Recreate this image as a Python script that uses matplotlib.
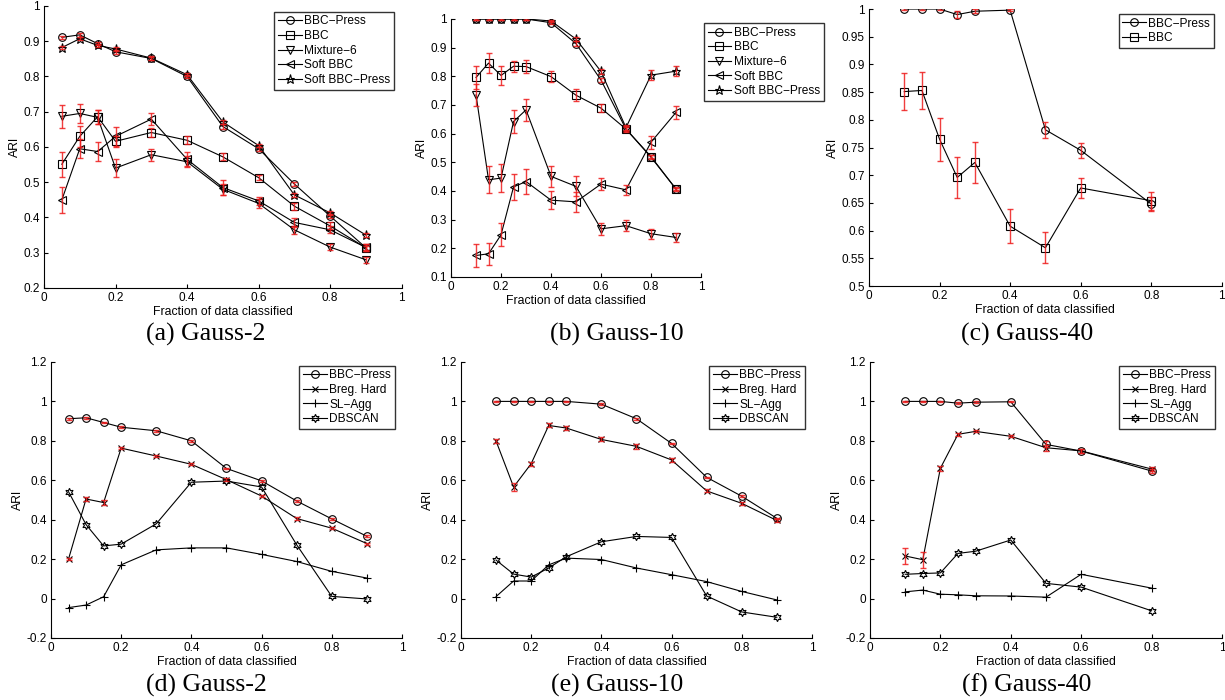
import numpy as np
import matplotlib.pyplot as plt
from matplotlib.ticker import FormatStrFormatter

plt.rcParams['font.family'] = ['Liberation Sans', 'DejaVu Sans']

#%% data
# top row: Gauss-2, Gauss-10, Gauss-40
x_a = [0.05, 0.1, 0.15, 0.2, 0.3, 0.4, 0.5, 0.6, 0.7, 0.8, 0.9]
a_bbcp = [0.911, 0.918, 0.893, 0.870, 0.851, 0.800, 0.658, 0.595, 0.495, 0.404, 0.314]
a_bbc = [0.551, 0.630, 0.686, 0.616, 0.641, 0.619, 0.572, 0.513, 0.432, 0.376, 0.314]
a_mix = [0.687, 0.695, 0.684, 0.540, 0.578, 0.558, 0.480, 0.440, 0.365, 0.316, 0.280]
a_soft = [0.450, 0.595, 0.587, 0.630, 0.679, 0.565, 0.485, 0.447, 0.386, 0.365, 0.315]
a_softp = [0.882, 0.907, 0.888, 0.878, 0.852, 0.805, 0.671, 0.604, 0.464, 0.413, 0.350]
a_bbcp_e = [0.005, 0.006, 0.005, 0.005, 0.005, 0.005, 0.006, 0.006, 0.006, 0.006, 0.006]
a_bbc_e = [0.036, 0.030, 0.020, 0.015, 0.012, 0.012, 0.010, 0.008, 0.010, 0.010, 0.010]
a_mix_e = [0.032, 0.027, 0.020, 0.026, 0.017, 0.016, 0.015, 0.012, 0.012, 0.008, 0.008]
a_soft_e = [0.037, 0.027, 0.028, 0.028, 0.018, 0.020, 0.020, 0.012, 0.012, 0.010, 0.010]
a_softp_e = [0.005, 0.005, 0.005, 0.005, 0.005, 0.005, 0.005, 0.005, 0.006, 0.005, 0.005]

x_b = [0.1, 0.15, 0.2, 0.25, 0.3, 0.4, 0.5, 0.6, 0.7, 0.8, 0.9]
b_bbcp = [1.0, 1.0, 1.0, 1.0, 1.0, 0.987, 0.914, 0.787, 0.616, 0.520, 0.407]
b_bbc = [0.796, 0.846, 0.803, 0.835, 0.834, 0.799, 0.734, 0.689, 0.616, 0.518, 0.407]
b_mix = [0.735, 0.439, 0.445, 0.642, 0.683, 0.451, 0.416, 0.268, 0.279, 0.251, 0.238]
b_soft = [0.175, 0.181, 0.247, 0.414, 0.433, 0.368, 0.362, 0.424, 0.404, 0.570, 0.674]
b_softp = [1.0, 1.0, 1.0, 1.0, 1.0, 0.993, 0.930, 0.817, 0.621, 0.804, 0.818]
b_bbcp_e = [0.003, 0.003, 0.003, 0.003, 0.003, 0.005, 0.008, 0.008, 0.008, 0.006, 0.005]
b_bbc_e = [0.040, 0.035, 0.032, 0.020, 0.022, 0.018, 0.020, 0.013, 0.010, 0.008, 0.006]
b_mix_e = [0.037, 0.047, 0.048, 0.040, 0.038, 0.036, 0.035, 0.022, 0.020, 0.017, 0.015]
b_soft_e = [0.039, 0.039, 0.040, 0.045, 0.045, 0.032, 0.035, 0.022, 0.017, 0.023, 0.024]
b_softp_e = [0.003, 0.003, 0.003, 0.003, 0.003, 0.004, 0.006, 0.008, 0.008, 0.018, 0.018]

x_c = [0.1, 0.15, 0.2, 0.25, 0.3, 0.4, 0.5, 0.6, 0.8]
c_bbcp = [1.0, 1.0, 1.0, 0.990, 0.996, 0.998, 0.782, 0.745, 0.648]
c_bbc = [0.851, 0.853, 0.765, 0.696, 0.723, 0.608, 0.569, 0.677, 0.654]
c_bbcp_e = [0.001, 0.001, 0.001, 0.006, 0.004, 0.002, 0.014, 0.014, 0.012]
c_bbc_e = [0.033, 0.033, 0.039, 0.037, 0.037, 0.031, 0.028, 0.018, 0.016]

# bottom row: comparison with other methods
d_bbcp = [0.912, 0.917, 0.893, 0.869, 0.851, 0.800, 0.660, 0.597, 0.495, 0.404, 0.316]
d_breg = [0.200, 0.505, 0.487, 0.763, 0.723, 0.681, 0.603, 0.520, 0.406, 0.357, 0.279]
d_sl = [-0.046, -0.033, 0.009, 0.171, 0.247, 0.257, 0.257, 0.224, 0.188, 0.138, 0.104]
d_db = [0.542, 0.375, 0.267, 0.276, 0.379, 0.590, 0.596, 0.566, 0.273, 0.011, -0.002]
d_bbcp_e = [0.004] * 11
d_breg_e = [0.005, 0.012, 0.013, 0.006, 0.005, 0.005, 0.008, 0.006, 0.006, 0.005, 0.005]

e_bbcp = [1.0, 1.0, 1.0, 1.0, 1.0, 0.986, 0.912, 0.787, 0.615, 0.519, 0.407]
e_breg = [0.799, 0.566, 0.684, 0.878, 0.865, 0.807, 0.772, 0.703, 0.546, 0.483, 0.396]
e_sl = [0.010, 0.089, 0.089, 0.171, 0.205, 0.198, 0.155, 0.121, 0.086, 0.036, -0.007]
e_db = [0.195, 0.124, 0.109, 0.155, 0.212, 0.288, 0.315, 0.310, 0.013, -0.068, -0.095]
e_bbcp_e = [0.004] * 11
e_breg_e = [0.010, 0.022, 0.010, 0.010, 0.008, 0.010, 0.012, 0.010, 0.008, 0.006, 0.006]

f_bbcp = [1.0, 1.0, 1.0, 0.991, 0.996, 0.998, 0.782, 0.748, 0.647]
f_breg = [0.216, 0.197, 0.661, 0.833, 0.848, 0.823, 0.765, 0.749, 0.657]
f_sl = [0.034, 0.043, 0.022, 0.019, 0.014, 0.013, 0.007, 0.123, 0.053]
f_db = [0.123, 0.127, 0.130, 0.229, 0.240, 0.297, 0.077, 0.058, -0.062]
f_bbcp_e = [0.003, 0.003, 0.003, 0.006, 0.004, 0.003, 0.015, 0.012, 0.012]
f_breg_e = [0.042, 0.040, 0.012, 0.006, 0.005, 0.005, 0.015, 0.012, 0.012]

captions = ['(a) Gauss-2', '(b) Gauss-10', '(c) Gauss-40',
            '(d) Gauss-2', '(e) Gauss-10', '(f) Gauss-40']

hexagram = (6, 1, 0)
msize = {'*': 6.5, 'x': 4, '+': 6}


def draw(ax, x, series, ylim, yticks):
    # series: list of (label, marker, y, err or None)
    for lab, mk, y, err in series:
        ms = 6 if mk == hexagram else msize.get(mk, 5.5)
        ax.plot(x, y, color='k', lw=0.8, marker=mk, ms=ms, mfc='none',
                mec='k', mew=0.8, label=lab, zorder=2)
    for lab, mk, y, err in series:
        if err is not None:
            ax.errorbar(x, y, yerr=err, fmt='none', ecolor='#ee1c1c', elinewidth=1.0,
                        capsize=2.2, capthick=1.0, alpha=0.85, zorder=3)
    ax.set_xlim(0, 1)
    ax.set_ylim(*ylim)
    ax.set_xticks(np.arange(0, 1.01, 0.2))
    ax.set_yticks(yticks)
    ax.xaxis.set_major_formatter(FormatStrFormatter('%g'))
    ax.yaxis.set_major_formatter(FormatStrFormatter('%g'))
    ax.tick_params(direction='in', length=3, labelsize=8.5, width=0.8, pad=3)
    for s in ('top', 'right'):
        ax.spines[s].set_visible(False)
    ax.spines['left'].set_linewidth(0.8)
    ax.spines['bottom'].set_linewidth(0.8)
    ax.set_xlabel('Fraction of data classified', fontsize=8.8, labelpad=1)
    ax.set_ylabel('ARI', fontsize=8.8, labelpad=2)


def legend(ax, loc, anchor):
    lg = ax.legend(loc=loc, bbox_to_anchor=anchor, borderaxespad=0, fontsize=8.6,
                   frameon=True, fancybox=False, handlelength=2.0, handletextpad=0.2,
                   labelspacing=0.22, borderpad=0.3)
    lg.get_frame().set_edgecolor('k')
    lg.get_frame().set_linewidth(1.0)


fig = plt.figure(figsize=(12.25, 7), dpi=100)

ax1 = fig.add_axes([0.0359, 0.5886, 0.292, 0.4029])
draw(ax1, x_a, [('BBC\u2212Press', 'o', a_bbcp, a_bbcp_e), ('BBC', 's', a_bbc, a_bbc_e),
                ('Mixture\u22126', 'v', a_mix, a_mix_e), ('Soft BBC', '<', a_soft, a_soft_e),
                ('Soft BBC\u2212Press', '*', a_softp, a_softp_e)],
     (0.2, 1.0), np.arange(0.2, 1.01, 0.1))
legend(ax1, 'upper right', (0.978, 0.979))

ax2 = fig.add_axes([0.3682, 0.6043, 0.204, 0.3686])
draw(ax2, x_b, [('BBC\u2212Press', 'o', b_bbcp, b_bbcp_e), ('BBC', 's', b_bbc, b_bbc_e),
                ('Mixture\u22126', 'v', b_mix, b_mix_e), ('Soft BBC', '<', b_soft, b_soft_e),
                ('Soft BBC\u2212Press', '*', b_softp, b_softp_e)],
     (0.1, 1.0), np.arange(0.1, 1.01, 0.1))
legend(ax2, 'upper left', (1.012, 0.984))

ax3 = fig.add_axes([0.7094, 0.5914, 0.288, 0.3957])
draw(ax3, x_c, [('BBC\u2212Press', 'o', c_bbcp, c_bbcp_e), ('BBC', 's', c_bbc, c_bbc_e)],
     (0.5, 1.0), np.arange(0.5, 1.001, 0.05))
legend(ax3, 'upper right', (0.977, 0.982))

bottom = [(x_a, d_bbcp, d_bbcp_e, d_breg, d_breg_e, d_sl, d_db, [0.0416, 0.0886, 0.2865, 0.3943]),
          (x_b, e_bbcp, e_bbcp_e, e_breg, e_breg_e, e_sl, e_db, [0.3763, 0.0886, 0.2865, 0.3943]),
          (x_c, f_bbcp, f_bbcp_e, f_breg, f_breg_e, f_sl, f_db, [0.7102, 0.0886, 0.2873, 0.3943])]
for xs, bp, bpe, br, bre, sl, db, pos in bottom:
    ax = fig.add_axes(pos)
    draw(ax, xs, [('BBC\u2212Press', 'o', bp, bpe), ('Breg. Hard', 'x', br, bre),
                  ('SL\u2212Agg', '+', sl, None), ('DBSCAN', hexagram, db, None)],
         (-0.2, 1.2), np.arange(-0.2, 1.21, 0.2))
    legend(ax, 'upper right', (0.979, 0.986))

# captions below each panel
cap_x = [206, 617, 1027]
for i, c in enumerate(captions):
    yy = 334 if i < 3 else 685
    fig.text(cap_x[i % 3] / 1225, 1 - yy / 700, c, ha='center', va='center',
             fontsize=18.5, family=['Liberation Serif', 'DejaVu Serif'])

fig.savefig('out.png', dpi=100)
